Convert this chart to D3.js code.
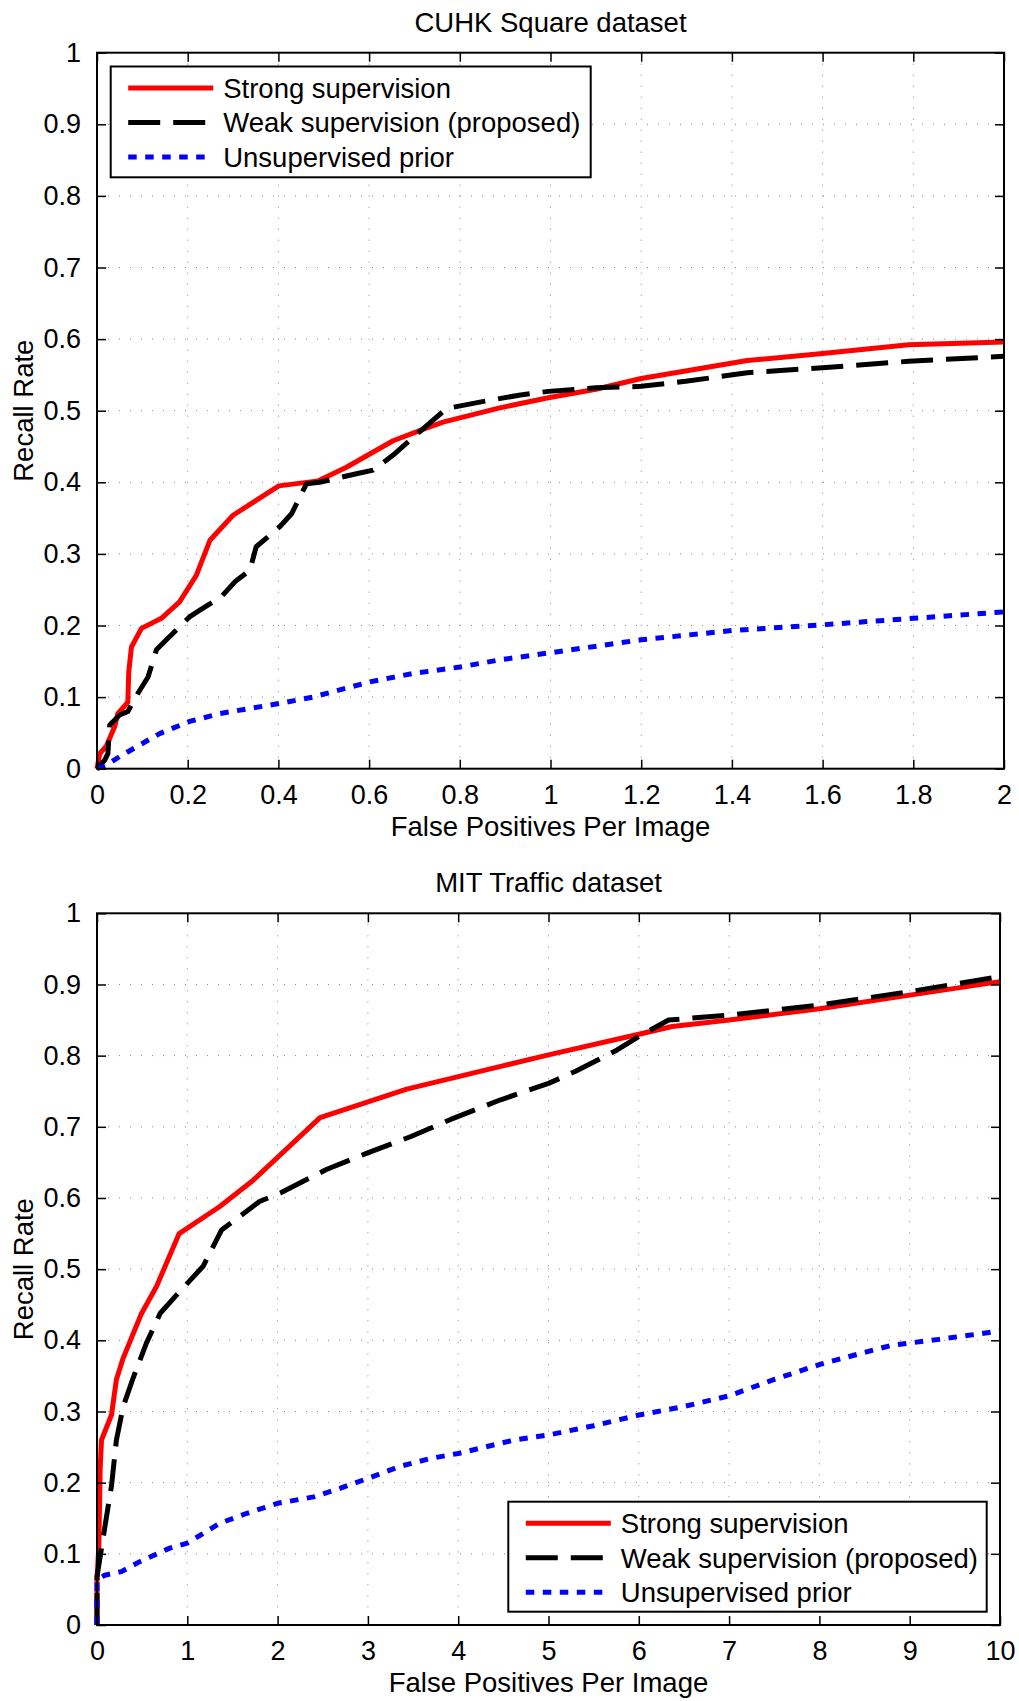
<!DOCTYPE html>
<html>
<head>
<meta charset="utf-8">
<script src="https://cdn.jsdelivr.net/npm/d3@7/dist/d3.min.js"></script>
<style>
  html, body { margin: 0; padding: 0; background: #fff; }
  svg text { font-family: 'Liberation Sans', Arial, Helvetica, sans-serif; fill: #000; }
</style>
</head>
<body>
<div id="chart"></div>
<script>
(function() {

  // ---- data ----
  var seriesNames = ['Strong supervision', 'Weak supervision (proposed)', 'Unsupervised prior'];

  // CUHK Square dataset  [fppi, recall]
  var cuhkStrong = [
    [0, 0], [0.006, 0.021], [0.021, 0.032], [0.039, 0.059], [0.046, 0.077], [0.068, 0.093],
    [0.070, 0.135], [0.076, 0.170], [0.098, 0.196], [0.142, 0.210], [0.182, 0.233],
    [0.219, 0.270], [0.249, 0.319], [0.300, 0.354], [0.401, 0.395], [0.488, 0.402],
    [0.550, 0.421], [0.653, 0.458], [0.723, 0.475], [0.763, 0.484], [0.888, 0.504],
    [0.995, 0.518], [1.10, 0.530], [1.20, 0.545], [1.434, 0.570], [1.60, 0.580],
    [1.79, 0.592], [2.0, 0.596]
  ];
  var cuhkWeak = [
    [0, 0], [0.017, 0.012], [0.024, 0.021], [0.028, 0.061], [0.05, 0.075], [0.068, 0.080],
    [0.09, 0.105], [0.1125, 0.128], [0.131, 0.166], [0.153, 0.180], [0.204, 0.212],
    [0.226, 0.221], [0.274, 0.240], [0.304, 0.261], [0.337, 0.277], [0.351, 0.310],
    [0.403, 0.338], [0.429, 0.356], [0.462, 0.398], [0.491, 0.400], [0.572, 0.412],
    [0.609, 0.417], [0.653, 0.438], [0.741, 0.487], [0.771, 0.503], [0.844, 0.512],
    [0.934, 0.522], [0.995, 0.527], [1.10, 0.532], [1.20, 0.534], [1.298, 0.541],
    [1.434, 0.553], [1.60, 0.560], [1.79, 0.569], [2.0, 0.576]
  ];
  var cuhkPrior = [
    [0, 0], [0.021, 0.005], [0.05, 0.017], [0.094, 0.033], [0.138, 0.049], [0.204, 0.066],
    [0.271, 0.077], [0.401, 0.091], [0.476, 0.100], [0.6, 0.121], [0.697, 0.133],
    [0.8, 0.142], [0.888, 0.152], [1.0, 0.162], [1.2, 0.180], [1.4, 0.193],
    [1.6, 0.201], [1.8, 0.210], [2.0, 0.219]
  ];

  // MIT Traffic dataset
  var mitStrong = [
    [0, 0], [0, 0.065], [0.02, 0.11], [0.035, 0.22], [0.05, 0.26], [0.16, 0.295],
    [0.215, 0.345], [0.29, 0.375], [0.49, 0.437], [0.66, 0.476], [0.91, 0.55],
    [1.36, 0.588], [1.73, 0.625], [2.47, 0.713], [3.43, 0.753], [4.47, 0.785],
    [5, 0.801], [6, 0.830], [6.37, 0.841], [7, 0.850], [8, 0.866], [9, 0.885], [10, 0.904]
  ];
  var mitWeak = [
    [0, 0], [0, 0.068], [0.04, 0.10], [0.10, 0.148], [0.16, 0.195], [0.215, 0.26],
    [0.29, 0.307], [0.40, 0.347], [0.547, 0.396], [0.70, 0.438], [0.898, 0.466],
    [1.175, 0.504], [1.379, 0.555], [1.80, 0.595], [2.03, 0.607], [2.54, 0.640],
    [2.99, 0.663], [3.47, 0.686], [3.91, 0.710], [4.47, 0.738], [5, 0.761],
    [5.30, 0.778], [5.76, 0.808], [6.0, 0.827], [6.33, 0.850], [7, 0.857],
    [8, 0.871], [9, 0.890], [10, 0.911]
  ];
  var mitPrior = [
    [0, 0], [0, 0.063], [0.085, 0.070], [0.27, 0.075], [0.474, 0.089], [0.806, 0.108],
    [1.0, 0.115], [1.18, 0.129], [1.36, 0.143], [1.66, 0.157], [2.0, 0.171],
    [2.40, 0.180], [2.69, 0.192], [3.0, 0.206], [3.36, 0.223], [3.69, 0.234],
    [4.0, 0.241], [4.62, 0.260], [5.0, 0.267], [5.5, 0.280], [6.0, 0.295],
    [6.5, 0.307], [7.0, 0.322], [7.5, 0.345], [8.0, 0.366], [8.5, 0.383],
    [8.8, 0.393], [9.3, 0.401], [10, 0.413]
  ];

  var cuhkXTicks = [0, 0.2, 0.4, 0.6, 0.8, 1, 1.2, 1.4, 1.6, 1.8, 2];
  var mitXTicks = [0, 1, 2, 3, 4, 5, 6, 7, 8, 9, 10];
  var yTicks = [0, 0.1, 0.2, 0.3, 0.4, 0.5, 0.6, 0.7, 0.8, 0.9, 1];

  // ---- styles ----
  var styles = [
    { color: '#ff0000', dash: null },
    { color: '#000000', dash: '32,13' },
    { color: '#0000ff', dash: '8.5,8.5' }
  ];

  var svg = d3.select('#chart')
    .append('svg')
    .attr('width', 1019)
    .attr('height', 1701);

  var panels = [
    {
      title: 'CUHK Square dataset',
      box: { left: 97, top: 52.7, right: 1004, bottom: 768.7 },
      xDomain: [0, 2], xTicks: cuhkXTicks,
      series: [cuhkStrong, cuhkWeak, cuhkPrior],
      legend: { x: 110.7, y: 66.5, w: 480, h: 110.8 }
    },
    {
      title: 'MIT Traffic dataset',
      box: { left: 97, top: 913.3, right: 1000, bottom: 1625 },
      xDomain: [0, 10], xTicks: mitXTicks,
      series: [mitStrong, mitWeak, mitPrior],
      legend: { x: 508.3, y: 1501.7, w: 478.4, h: 110 }
    }
  ];

  panels.forEach(draw);

  function draw(p) {
    var b = p.box;
    var x = d3.scaleLinear().domain(p.xDomain).range([b.left, b.right]);
    var y = d3.scaleLinear().domain([0, 1]).range([b.bottom, b.top]);
    var g = svg.append('g');

    // dotted grid
    g.append('g').selectAll('line')
      .data(p.xTicks.slice(1, -1))
      .enter().append('line')
      .attr('x1', function(d) { return x(d); })
      .attr('x2', function(d) { return x(d); })
      .attr('y1', b.top).attr('y2', b.bottom)
      .attr('stroke', '#888').attr('stroke-width', 1)
      .attr('stroke-dasharray', '1,10');
    g.append('g').selectAll('line')
      .data(yTicks.slice(1, -1))
      .enter().append('line')
      .attr('y1', function(d) { return y(d); })
      .attr('y2', function(d) { return y(d); })
      .attr('x1', b.left).attr('x2', b.right)
      .attr('stroke', '#888').attr('stroke-width', 1)
      .attr('stroke-dasharray', '1,10');

    // curves
    var line = d3.line()
      .x(function(d) { return x(d[0]); })
      .y(function(d) { return y(d[1]); });

    p.series.forEach(function(s, i) {
      g.append('path')
        .datum(s)
        .attr('d', line)
        .attr('fill', 'none')
        .attr('stroke', styles[i].color)
        .attr('stroke-width', 5)
        .attr('stroke-linejoin', 'round')
        .attr('stroke-dasharray', styles[i].dash);
    });

    // axes: box with inward ticks on all sides
    g.append('rect')
      .attr('x', b.left).attr('y', b.top)
      .attr('width', b.right - b.left).attr('height', b.bottom - b.top)
      .attr('fill', 'none').attr('stroke', '#000').attr('stroke-width', 2);

    var xAxisB = d3.axisBottom(x).tickValues(p.xTicks).tickSize(-9).tickPadding(16)
      .tickFormat(d3.format('~g'));
    var xAxisT = d3.axisTop(x).tickValues(p.xTicks).tickSize(-9).tickFormat('');
    var yAxisL = d3.axisLeft(y).tickValues(yTicks).tickSize(-9).tickPadding(16)
      .tickFormat(d3.format('~g'));
    var yAxisR = d3.axisRight(y).tickValues(yTicks).tickSize(-9).tickFormat('');

    [[xAxisB, 'translate(0,' + b.bottom + ')'], [xAxisT, 'translate(0,' + b.top + ')'],
     [yAxisL, 'translate(' + b.left + ',0)'], [yAxisR, 'translate(' + b.right + ',0)']]
      .forEach(function(a) {
        var ag = g.append('g').attr('transform', a[1]).call(a[0]);
        ag.select('.domain').remove();
        ag.selectAll('.tick line').attr('stroke', '#000').attr('stroke-width', 1.5);
        ag.selectAll('.tick text')
          .style('font-size', '27px')
          .style('font-family', "'Liberation Sans', Arial, sans-serif")
          .attr('fill', '#000');
      });

    // title + labels
    var cx = (b.left + b.right) / 2;
    g.append('text')
      .attr('x', cx).attr('y', b.top - 21)
      .attr('text-anchor', 'middle')
      .style('font-size', '27.5px')
      .text(p.title);
    g.append('text')
      .attr('x', cx).attr('y', b.bottom + 67)
      .attr('text-anchor', 'middle')
      .style('font-size', '27.5px')
      .text('False Positives Per Image');
    g.append('text')
      .attr('transform', 'translate(33,' + ((b.top + b.bottom) / 2) + ') rotate(-90)')
      .attr('text-anchor', 'middle')
      .style('font-size', '27.5px')
      .text('Recall Rate');

    // legend
    var L = p.legend;
    var lg = g.append('g').attr('transform', 'translate(' + L.x + ',' + L.y + ')');
    lg.append('rect')
      .attr('width', L.w).attr('height', L.h)
      .attr('fill', '#fff').attr('stroke', '#000').attr('stroke-width', 2);
    seriesNames.forEach(function(name, i) {
      var yy = 21.5 + i * 34.5;
      lg.append('line')
        .attr('x1', 17.5).attr('x2', 102.5)
        .attr('y1', yy).attr('y2', yy)
        .attr('stroke', styles[i].color)
        .attr('stroke-width', 5)
        .attr('stroke-dasharray', styles[i].dash);
      lg.append('text')
        .attr('x', 112.5).attr('y', yy)
        .attr('dy', '0.36em')
        .style('font-size', '27.5px')
        .text(name);
    });
  }

})();
</script>
</body>
</html>
